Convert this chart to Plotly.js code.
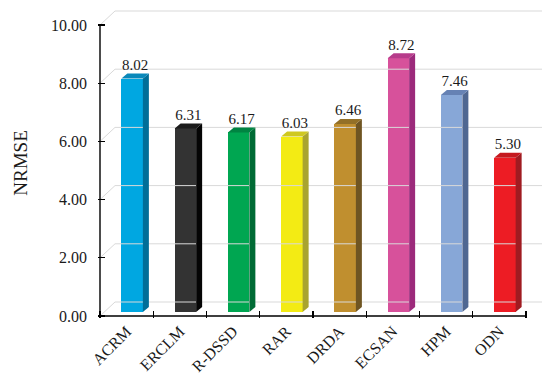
<!DOCTYPE html>
<html>
<head>
<meta charset="utf-8">
<script src="https://cdn.plot.ly/plotly-3.0.1.min.js"></script>
<style>html,body{margin:0;padding:0;background:#fff;}#chart{width:542px;height:375px;}</style>
</head>
<body>
<div id="chart"></div>
<script>
// ---- data ----
const categories = ["ACRM", "ERCLM", "R-DSSD", "RAR", "DRDA", "ECSAN", "HPM", "ODN"];
const values = [8.02, 6.31, 6.17, 6.03, 6.46, 8.72, 7.46, 5.30];
const yTickValues = [0, 2, 4, 6, 8, 10];

// ---- styling ----
const frontColors = ["#00a7e1", "#333333", "#00a651", "#f3eb14", "#c08f2f", "#d7519b", "#87a7d7", "#ed1c24"];
const sideColors  = ["#006e98", "#050505", "#006b35", "#a9a42f", "#6f5522", "#9c2a7b", "#4f6791", "#a01b21"];
const topColors   = ["#0a88ba", "#1c1c1c", "#008442", "#cfc820", "#937027", "#b73c8b", "#6682b4", "#c5191f"];

const W = 542, H = 375;
const plotL = 98, plotR = 542, plotT = 8, plotB = 318;
const pxPerCat = 53.25, pxPerUnit = 29.1;
const axisX0px = 100, axisY0px = 316;

const xmin = -0.5 - (axisX0px - plotL) / pxPerCat;
const xmax = xmin + (plotR - plotL) / pxPerCat;
const ymin = -(plotB - axisY0px) / pxPerUnit;
const ymax = ymin + (plotB - plotT) / pxPerUnit;

const px2x = p => p / pxPerCat;
const px2y = p => p / pxPerUnit;

// 3D offsets
const wallDx = px2x(15), wallDy = px2y(14);
const barDx = px2x(5.5), barDy = px2y(4);
const barW = px2x(21.5);
const sideDx = px2x(6), sideDy = px2y(5);

const traces = [];

// back-wall gridlines
const gx = [], gy = [];
yTickValues.forEach(v => {
  gx.push(-0.5, -0.5 + wallDx, xmax, null);
  gy.push(v, v + wallDy, v + wallDy, null);
});
traces.push({type: "scatter", mode: "lines", x: gx, y: gy, line: {color: "#d9d9d9", width: 1},
  hoverinfo: "skip", showlegend: false, xaxis: "x", yaxis: "y"});

// front faces
const idx = categories.map((c, i) => i);
traces.push({type: "bar", x: idx, y: values, base: barDy, width: barW, offset: -barW / 2 + barDx,
  marker: {color: frontColors, line: {width: 0}}, showlegend: false, hoverinfo: "skip", xaxis: "x", yaxis: "y"});

// side and top faces
values.forEach((v, i) => {
  const xl = i - barW / 2 + barDx, xr = xl + barW;
  const b = barDy, t = barDy + v;
  traces.push({type: "scatter", mode: "lines", fill: "toself", fillcolor: sideColors[i],
    x: [xr, xr + sideDx, xr + sideDx, xr, xr], y: [b, b + sideDy, t + sideDy, t, b],
    line: {width: 0, color: sideColors[i]}, hoverinfo: "skip", showlegend: false, xaxis: "x", yaxis: "y"});
  traces.push({type: "scatter", mode: "lines", fill: "toself", fillcolor: topColors[i],
    x: [xl, xl + sideDx, xr + sideDx, xr, xl], y: [t, t + sideDy, t + sideDy, t, t],
    line: {width: 0, color: topColors[i]}, hoverinfo: "skip", showlegend: false, xaxis: "x", yaxis: "y"});
});

// value labels
traces.push({type: "scatter", mode: "text",
  x: idx.map(i => i + barDx + sideDx / 2),
  y: values.map(v => v + barDy + sideDy),
  text: values.map(v => v.toFixed(2)), textposition: "top center",
  textfont: {family: "Liberation Serif", size: 15, color: "#1a1a1a"},
  cliponaxis: false, hoverinfo: "skip", showlegend: false, xaxis: "x", yaxis: "y"});

// front axis lines (on overlaid axis used for boundary ticks)
traces.push({type: "scatter", mode: "lines",
  x: [-0.5, -0.5, categories.length - 0.5], y: [yTickValues[yTickValues.length - 1], 0, 0],
  line: {color: "#000", width: 1.4}, hoverinfo: "skip", showlegend: false, xaxis: "x2", yaxis: "y"});

const boundaries = categories.map((c, i) => i - 0.5).concat([categories.length - 0.5]);

const layout = {
  width: W, height: H,
  margin: {l: plotL, r: W - plotR, t: plotT, b: H - plotB, pad: 0},
  paper_bgcolor: "#fff", plot_bgcolor: "rgba(0,0,0,0)",
  font: {family: "Liberation Serif", color: "#1a1a1a", size: 16},
  showlegend: false,
  xaxis: {type: "linear", range: [xmin, xmax], tickvals: idx, ticktext: categories, tickangle: -45,
    ticks: "", showgrid: false, zeroline: false, showline: false, fixedrange: true,
    tickfont: {family: "Liberation Serif", size: 16, color: "#1a1a1a"}},
  xaxis2: {type: "linear", range: [xmin, xmax], overlaying: "x", anchor: "y", side: "bottom",
    tickvals: boundaries, ticks: "inside", ticklen: 7, tickcolor: "#000", tickwidth: 1.2,
    showticklabels: false, showgrid: false, zeroline: false, showline: false},
  yaxis: {range: [ymin, ymax], tickvals: yTickValues, ticktext: yTickValues.map(v => v.toFixed(2)),
    ticks: "inside", ticklen: 7, tickcolor: "#000", tickwidth: 1.2, ticklabelstandoff: 10,
    showgrid: false, zeroline: false, showline: false,
    tickfont: {family: "Liberation Serif", size: 16, color: "#1a1a1a"},
    title: {text: "NRMSE", font: {family: "Liberation Serif", size: 19, color: "#1a1a1a"}, standoff: 18}},
  bargap: 0
};

Plotly.newPlot("chart", traces, layout, {staticPlot: true, displayModeBar: false});
</script>
</body>
</html>
